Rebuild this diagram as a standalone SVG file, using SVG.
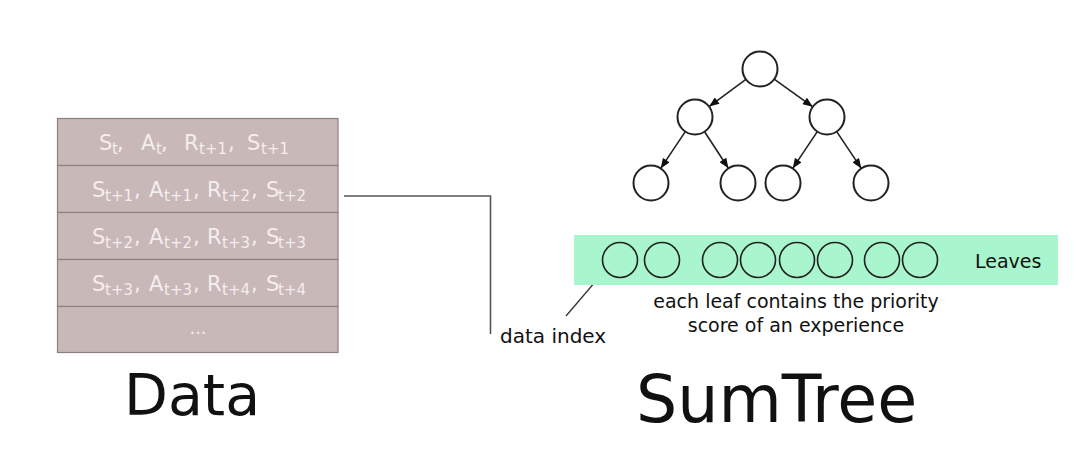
<svg xmlns="http://www.w3.org/2000/svg" width="1086" height="472" viewBox="0 0 1086 472">
<defs>
<style>
.row{fill:#c9b8b8;stroke:#8c8080;stroke-width:1.2}
.rt{font-family:"DejaVu Sans",Verdana,sans-serif;font-size:21px;fill:#f4eeee}
.sb{font-size:15px}
.node{fill:#fff;stroke:#222;stroke-width:2}
.leaf{fill:none;stroke:#222;stroke-width:1.6}
.edge{stroke:#222;stroke-width:1.6;fill:none;marker-end:url(#ah)}
.lbl{font-family:"DejaVu Sans",Verdana,sans-serif;fill:#111}
</style>
<marker id="ah" viewBox="0 0 10 8" refX="10" refY="4" markerWidth="11" markerHeight="8" markerUnits="userSpaceOnUse" orient="auto">
<path d="M0,0 L10,4 L0,8 z" fill="#111"/>
</marker>
</defs>
<rect width="1086" height="472" fill="#fff"/>

<g id="data-table">
<rect class="row" x="57.5" y="118.5" width="280.5" height="47"/>
<rect class="row" x="57.5" y="165.5" width="280.5" height="47"/>
<rect class="row" x="57.5" y="212.5" width="280.5" height="47"/>
<rect class="row" x="57.5" y="259.5" width="280.5" height="47"/>
<rect class="row" x="57.5" y="306.5" width="280.5" height="46"/>
<text class="rt" y="150"><tspan x="99">S</tspan><tspan class="sb" x="112" dy="4">t</tspan><tspan x="117" dy="-4">, </tspan><tspan x="141">A</tspan><tspan class="sb" x="156" dy="4">t</tspan><tspan x="161" dy="-4">,</tspan><tspan x="184">R</tspan><tspan class="sb" x="199" dy="4">t+1</tspan><tspan x="228" dy="-4">,</tspan><tspan x="247">S</tspan><tspan class="sb" x="261" dy="4">t+1</tspan></text>
<text class="rt" y="197"><tspan x="92">S</tspan><tspan class="sb" x="105" dy="4">t+1</tspan><tspan x="134" dy="-4">,</tspan><tspan x="149">A</tspan><tspan class="sb" x="164" dy="4">t+1</tspan><tspan x="193" dy="-4">,</tspan><tspan x="207">R</tspan><tspan class="sb" x="222" dy="4">t+2</tspan><tspan x="251" dy="-4">,</tspan><tspan x="266">S</tspan><tspan class="sb" x="278" dy="4">t+2</tspan></text>
<text class="rt" y="244"><tspan x="92">S</tspan><tspan class="sb" x="105" dy="4">t+2</tspan><tspan x="134" dy="-4">,</tspan><tspan x="149">A</tspan><tspan class="sb" x="164" dy="4">t+2</tspan><tspan x="193" dy="-4">,</tspan><tspan x="207">R</tspan><tspan class="sb" x="222" dy="4">t+3</tspan><tspan x="251" dy="-4">,</tspan><tspan x="266">S</tspan><tspan class="sb" x="278" dy="4">t+3</tspan></text>
<text class="rt" y="291"><tspan x="92">S</tspan><tspan class="sb" x="105" dy="4">t+3</tspan><tspan x="134" dy="-4">,</tspan><tspan x="149">A</tspan><tspan class="sb" x="164" dy="4">t+3</tspan><tspan x="193" dy="-4">,</tspan><tspan x="207">R</tspan><tspan class="sb" x="222" dy="4">t+4</tspan><tspan x="251" dy="-4">,</tspan><tspan x="266">S</tspan><tspan class="sb" x="278" dy="4">t+4</tspan></text>
<text class="rt" x="198" y="334" style="font-size:18px;text-anchor:middle">...</text>
</g>

<g id="connectors">
<polyline points="344,196 490.5,196 490.5,334" fill="none" stroke="#555" stroke-width="1.6"/>
<line x1="607" y1="268" x2="566" y2="316" stroke="#333" stroke-width="1.3"/>
<line class="edge" x1="745.9" y1="79.4" x2="709.1" y2="106.6"/>
<line class="edge" x1="774.2" y1="79.2" x2="812.8" y2="106.8"/>
<line class="edge" x1="685.3" y1="131.6" x2="660.7" y2="168.4"/>
<line class="edge" x1="704.6" y1="131.7" x2="728.4" y2="168.3"/>
<line class="edge" x1="817.3" y1="131.6" x2="792.7" y2="168.4"/>
<line class="edge" x1="836.7" y1="131.6" x2="861.3" y2="168.4"/>
</g>

<g id="tree">
<circle class="node" cx="760" cy="69" r="17.5"/>
<circle class="node" cx="695" cy="117" r="17.5"/>
<circle class="node" cx="827" cy="117" r="17.5"/>
<circle class="node" cx="651" cy="183" r="17.5"/>
<circle class="node" cx="738" cy="183" r="17.5"/>
<circle class="node" cx="783" cy="183" r="17.5"/>
<circle class="node" cx="871" cy="183" r="17.5"/>
</g>

<g id="leaves">
<rect x="574" y="235" width="484" height="50" fill="#a9f5cd"/>
<circle class="leaf" cx="620" cy="260" r="17.5"/>
<circle class="leaf" cx="662" cy="260" r="17.5"/>
<circle class="leaf" cx="720" cy="260" r="17.5"/>
<circle class="leaf" cx="758" cy="260" r="17.5"/>
<circle class="leaf" cx="797" cy="260" r="17.5"/>
<circle class="leaf" cx="835" cy="260" r="17.5"/>
<circle class="leaf" cx="882" cy="260" r="17.5"/>
<circle class="leaf" cx="920" cy="260" r="17.5"/>
<text class="lbl" x="975" y="268" font-size="19" fill="#222">Leaves</text>
</g>

<g id="labels">
<text class="lbl" x="500" y="343" font-size="20">data index</text>
<text class="lbl" x="796" y="308" font-size="19" text-anchor="middle">each leaf contains the priority</text>
<text class="lbl" x="796" y="332" font-size="19" text-anchor="middle">score of an experience</text>
<text class="lbl" x="124" y="415" font-size="57">Data</text>
<text class="lbl" x="636" y="422" font-size="65">SumTree</text>
</g>
</svg>
